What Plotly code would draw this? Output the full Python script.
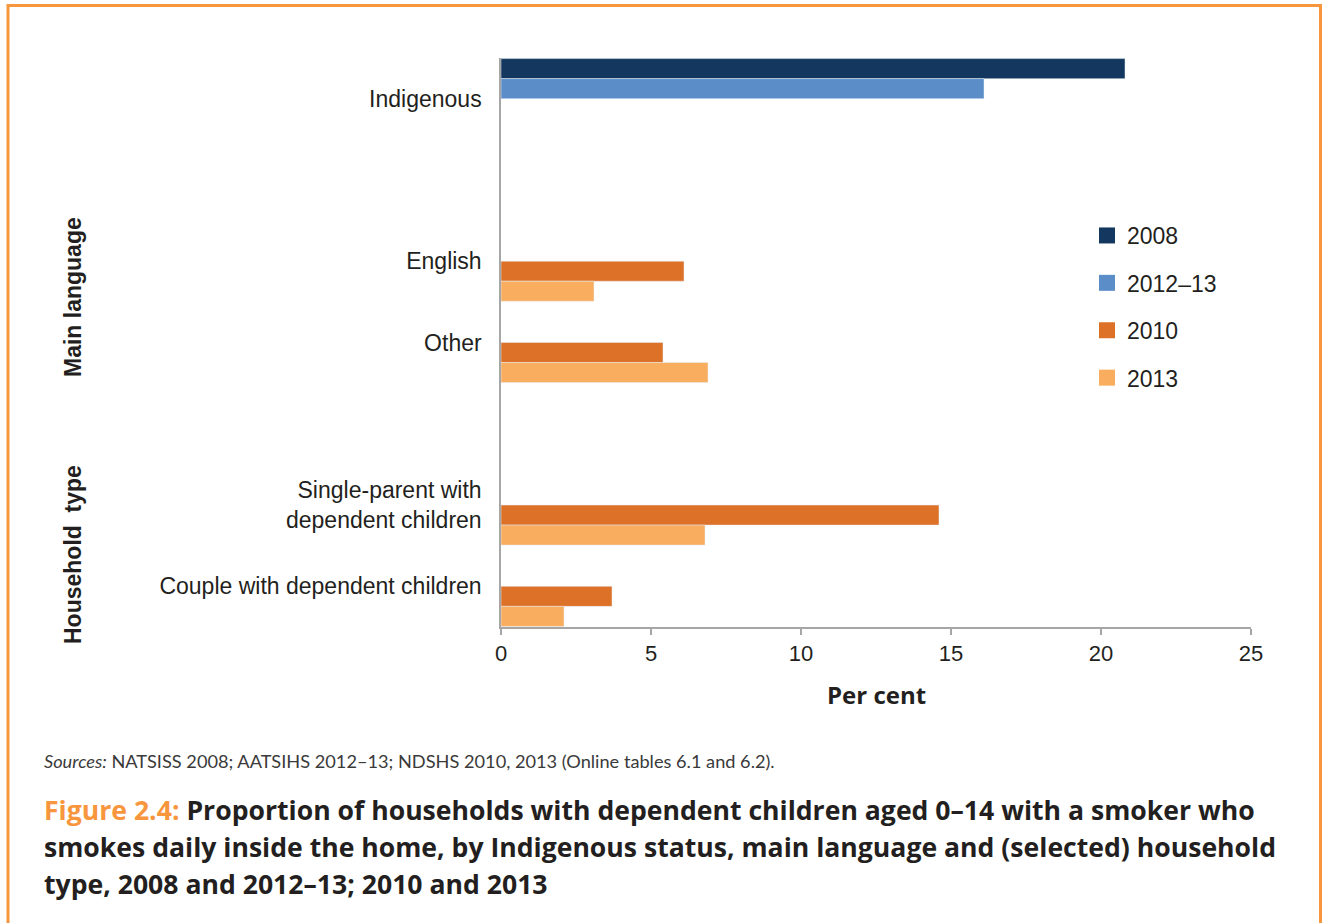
import plotly.graph_objects as go

# ---- data ----
categories = ["Indigenous", " ", "English", "Other", "  ",
              "Single-parent with<br>dependent children",
              "Couple with dependent children"]
ind_cats = ["Indigenous"]
val_2008 = [20.8]
val_2012_13 = [16.1]
other_cats = ["English", "Other", "Single-parent with<br>dependent children",
              "Couple with dependent children"]
val_2010 = [6.1, 5.4, 14.6, 3.7]
val_2013 = [3.1, 6.9, 6.8, 2.1]
x_ticks = [0, 5, 10, 15, 20, 25]
series_names = ["2008", "2012–13", "2010", "2013"]

C_2008 = "#13375E"
C_2012 = "#5B8DC9"
C_2010 = "#DE7128"
C_2013 = "#F9AD5F"
colors = [C_2008, C_2012, C_2010, C_2013]
ORANGE = "#F7963C"
DARK = "#231F20"

fig = go.Figure()
fig.add_trace(go.Bar(name="2008", y=ind_cats, x=val_2008, orientation="h",
                     marker_color=C_2008, showlegend=False))
fig.add_trace(go.Bar(name="2012–13", y=ind_cats, x=val_2012_13, orientation="h",
                     marker_color=C_2012, showlegend=False))
fig.add_trace(go.Bar(name="2010", y=other_cats, x=val_2010, orientation="h",
                     marker_color=C_2010, showlegend=False))
fig.add_trace(go.Bar(name="2013", y=other_cats, x=val_2013, orientation="h",
                     marker_color=C_2013, showlegend=False))
# legend entries (larger square swatches)
for i, (nm, col) in enumerate(zip(series_names, colors)):
    fig.add_trace(go.Scatter(name=nm, x=[None], y=[None], mode="markers",
                             marker=dict(symbol="square", size=17, color=col),
                             legendgroup=f"g{i}", hoverinfo="skip"))

L, R, T, B = 501, 71, 58, 296
W, H = 1322, 923
PW, PH = W - L - R, H - T - B


def px(xp):
    return (xp - L) / PW


def py(yp):
    return (H - B - yp) / PH


fig.update_layout(
    width=W, height=H,
    margin=dict(l=L, r=R, t=T, b=B, pad=0),
    paper_bgcolor="white", plot_bgcolor="white",
    barmode="group", bargap=0.015, bargroupgap=0,
    font=dict(family="Liberation Sans, Arial", size=22, color=DARK),
    legend=dict(x=px(1087), y=py(214), xanchor="left", yanchor="top",
                font=dict(size=23, color=DARK), tracegroupgap=14.5,
                itemsizing="trace", bgcolor="rgba(0,0,0,0)"),
    xaxis=dict(range=[0, 25], tickvals=x_ticks, showgrid=False, zeroline=False,
               showline=True, linecolor="#A6A6A6", linewidth=1.5,
               ticks="outside", ticklen=6, tickcolor="#A6A6A6", tickwidth=1.5,
               tickfont=dict(size=22, color=DARK)),
    yaxis=dict(type="category", categoryorder="array", categoryarray=categories,
               range=[6.5, -0.5], showgrid=False, zeroline=False,
               showline=True, linecolor="#A6A6A6", linewidth=1.5,
               ticks="", ticklabelstandoff=13,
               tickfont=dict(size=23, color=DARK)),
)

CAP_FONT = "Open Sans"
annotations = [
    dict(text="<b>Per cent</b>", x=px(876), y=py(694), xref="paper", yref="paper",
         xanchor="center", yanchor="middle", showarrow=False,
         font=dict(family=CAP_FONT, size=24, color=DARK)),
    dict(text="<b>Main language</b>", x=px(73), y=py(297), xref="paper", yref="paper",
         xanchor="center", yanchor="middle", showarrow=False, textangle=-90,
         font=dict(family="Liberation Sans, Arial", size=23, color=DARK)),
    dict(text="<b>Household\u00a0 type</b>", x=px(73), y=py(555), xref="paper", yref="paper",
         xanchor="center", yanchor="middle", showarrow=False, textangle=-90,
         font=dict(family="Liberation Sans, Arial", size=23, color=DARK)),
    dict(text="<i>Sources:</i> NATSISS 2008; AATSIHS 2012–13; NDSHS 2010, 2013 (Online tables 6.1 and 6.2).",
         x=px(42), y=py(761), xref="paper", yref="paper",
         xanchor="left", yanchor="middle", showarrow=False,
         font=dict(family="Lato", size=18.2, color="#3A3A3A")),
]
caption_lines = [
    f"<span style='color:{ORANGE}'>Figure 2.4:</span> Proportion of households with dependent children aged 0–14 with a smoker who",
    "smokes daily inside the home, by Indigenous status, main language and (selected) household",
    "type, 2008 and 2012–13; 2010 and 2013",
]
for i, line in enumerate(caption_lines):
    annotations.append(dict(text=line, x=px(42), y=py(810 + 37 * i), xref="paper", yref="paper",
                            xanchor="left", yanchor="middle", showarrow=False,
                            font=dict(family=CAP_FONT, size=26.6, color=DARK, weight=700)))
fig.update_layout(annotations=annotations)

fig.add_shape(type="rect", xref="paper", yref="paper",
              x0=px(8), x1=px(1320.5), y0=py(990), y1=py(5.5),
              line=dict(color=ORANGE, width=3), fillcolor="rgba(0,0,0,0)", layer="above")

fig.write_html("out.html", config={"displayModeBar": False},
               post_script="document.body.style.margin='0';document.body.style.overflow='hidden';")
